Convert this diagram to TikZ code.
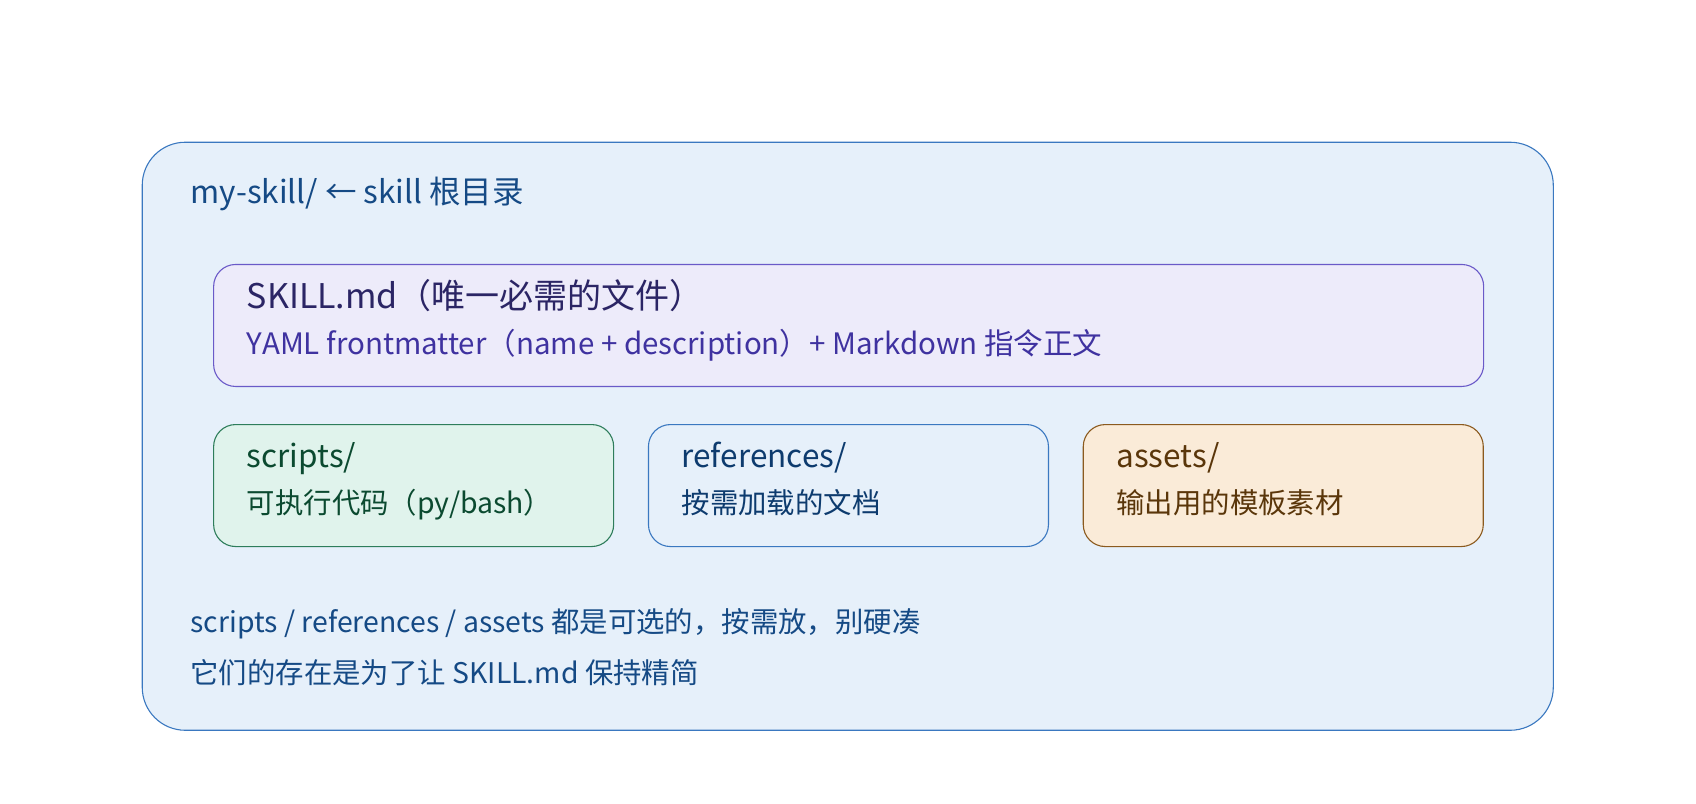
\documentclass[tikz,border=0pt]{standalone}
\usepackage{fontspec}
\setmainfont{Noto Sans CJK SC}
\usetikzlibrary{positioning}

\definecolor{rootfill}{HTML}{E6F0FA}
\definecolor{rootdraw}{HTML}{3A78C0}
\definecolor{roottext}{HTML}{154A85}
\definecolor{skillfill}{HTML}{EDEBFA}
\definecolor{skilldraw}{HTML}{6A5AC8}
\definecolor{skillhead}{HTML}{2B2565}
\definecolor{skillsub}{HTML}{3F32A0}
\definecolor{scriptsfill}{HTML}{E0F3EC}
\definecolor{scriptsdraw}{HTML}{2E7D5B}
\definecolor{scriptstext}{HTML}{0B4A30}
\definecolor{refsfill}{HTML}{E6F0FA}
\definecolor{refsdraw}{HTML}{3A78C0}
\definecolor{refstext}{HTML}{0D3B6E}
\definecolor{assetsfill}{HTML}{FAEBD8}
\definecolor{assetsdraw}{HTML}{8B5A1E}
\definecolor{assetstext}{HTML}{5A360A}

\begin{document}
\begin{tikzpicture}[x=1.0816pt,y=-1.0816pt,
  box/.style={draw, line width=1.1pt, anchor=north west, inner sep=0pt},
  txt/.style={anchor=base west, inner sep=0pt},
  big/.style={font=\fontsize{31.5pt}{36pt}\selectfont},
  small/.style={font=\fontsize{28.4pt}{33pt}\selectfont}]

\useasboundingbox (0,0) rectangle (1568,743.3);

% root folder
\node[box, fill=rootfill, draw=rootdraw, rounded corners=43pt,
  minimum width=1411pt, minimum height=588pt] (root) at (131,131) {};
\node[txt, big, text=roottext] (roottitle) at (176,188) {my-skill/ ← skill 根目录};

% SKILL.md
\node[box, fill=skillfill, draw=skilldraw, rounded corners=22pt,
  minimum width=1270pt, minimum height=122pt] (skill) at (197,244) {};
\node[txt, font=\fontsize{34pt}{39pt}\selectfont, text=skillhead] (skillhead) at (228,285) {SKILL.md（唯一必需的文件）};
\node[txt, font=\fontsize{29.5pt}{34pt}\selectfont, text=skillsub] (skillsub) at (228,328) {YAML frontmatter（name + description）+ Markdown 指令正文};

% optional folders
\foreach \name/\xpos/\head/\sub in {scripts/197/{scripts/}/{可执行代码（py/bash）},
    refs/599/{references/}/{按需加载的文档},
    assets/1001/{assets/}/{输出用的模板素材}} {
  \node[box, fill=\name fill, draw=\name draw, rounded corners=22pt,
    minimum width=400pt, minimum height=122pt] (\name) at (\xpos,392) {};
  \node[txt, big, text=\name text] (\name-head) at (\xpos+31,432) {\head};
  \node[txt, small, text=\name text] (\name-sub) at (\xpos+31,475) {\sub};
}

% notes
\node[txt, small, text=roottext] (note1) at (176,585) {scripts / references / assets 都是可选的，按需放，别硬凑};
\node[txt, small, text=roottext] (note2) at (176,632) {它们的存在是为了让 SKILL.md 保持精简};

\end{tikzpicture}
\end{document}
